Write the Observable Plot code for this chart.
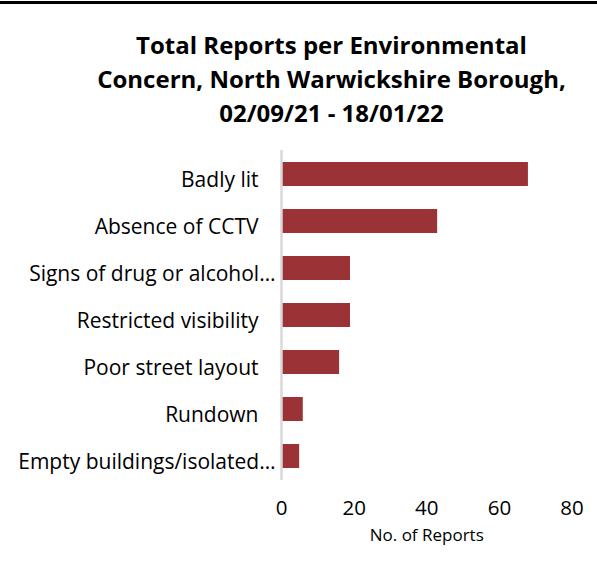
<!DOCTYPE html>
<html>
<head>
<meta charset="utf-8">
<script src="https://cdn.jsdelivr.net/npm/d3@7"></script>
<script src="https://cdn.jsdelivr.net/npm/@observablehq/plot@0.6"></script>
<style>
  html, body { margin: 0; padding: 0; background: #fff; }
  #wrap { width: 597px; height: 577px; overflow: hidden; font-family: "Open Sans", Lato, sans-serif; }
  #title { box-sizing: border-box; height: 139px; border-top: 3px solid #000; margin-top: 1px; padding-top: 24px;
    text-align: center; font-weight: bold; font-size: 24px; line-height: 34px; color: #000; padding-left: 66px; }
  #chart svg { display: block; }
</style>
</head>
<body>
<div id="wrap">
  <div id="title">Total Reports per Environmental<br>Concern, North Warwickshire Borough,<br>02/09/21 - 18/01/22</div>
  <div id="chart"></div>
</div>
<script>
const categories = ["Badly lit", "Absence of CCTV", "Signs of drug or alcohol…", "Restricted visibility", "Poor street layout", "Rundown", "Empty buildings/isolated…"];
const reports = [68, 43, 19, 19, 16, 6, 5];
const xTicks = [0, 20, 40, 60, 80];
const xLabel = "No. of Reports";

const data = categories.map((c, i) => ({category: c, value: reports[i]}));
const truncated = categories.filter(c => c.endsWith("…"));
const full = categories.filter(c => !c.endsWith("…"));

const chart = Plot.plot({
  width: 597,
  height: 437,
  marginTop: 10,
  marginBottom: 97,
  marginLeft: 281,
  marginRight: 25.5,
  style: {fontFamily: "'Open Sans', Lato, sans-serif", color: "#000", background: "#fff"},
  x: {domain: [0, 80]},
  y: {domain: categories, paddingInner: 0.5, paddingOuter: 0.25},
  marks: [
    Plot.barX(data, {x: "value", y: "category", fill: "#9b3336"}),
    Plot.ruleX([0], {stroke: "#d9d9d9", strokeWidth: 2.5}),
    Plot.axisX({ticks: xTicks, tickSize: 0, tickPadding: 20, fontSize: 20.5, label: null, fill: "#000"}),
    Plot.axisY({ticks: full, tickSize: 0, tickPadding: 23, dy: 6, fontSize: 21, label: null, fill: "#000"}),
    Plot.axisY({ticks: truncated, tickSize: 0, tickPadding: 6, dy: 6, fontSize: 21, label: null, fill: "#000"}),
    Plot.text([xLabel], {frameAnchor: "bottom", dy: 60, text: d => d, fontSize: 17, fill: "#000"})
  ]
});
document.getElementById("chart").appendChild(chart);
</script>
</body>
</html>
